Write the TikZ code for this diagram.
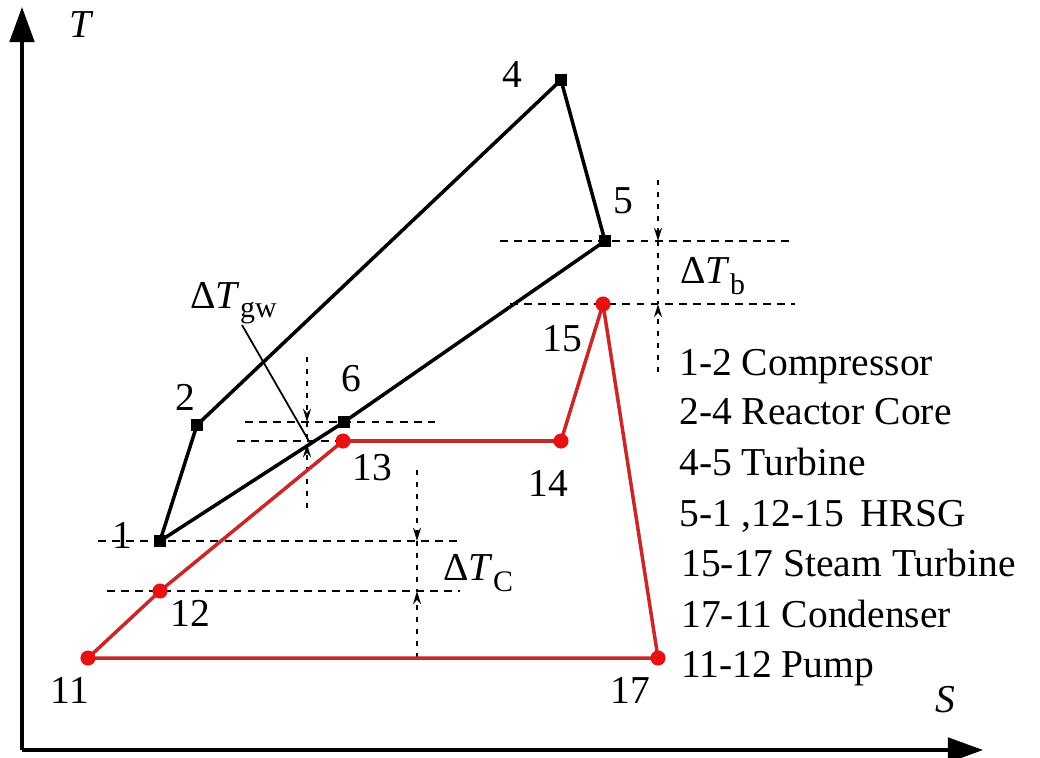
\documentclass[tikz,border=0pt]{standalone}
\usepackage{fontspec}
\setmainfont{Liberation Serif}
\usetikzlibrary{arrows.meta}
\definecolor{lred}{RGB}{200,40,40}
\definecolor{dred}{RGB}{232,16,16}
\tikzset{
 bline/.style={line width=2pt, black, line join=miter},
 rline/.style={line width=2pt, lred},
 bsq/.style={fill=black, rectangle, minimum size=7.3pt, inner sep=0pt},
 rdot/.style={fill=dred, circle, minimum size=8.6pt, inner sep=0pt},
 lbl/.style={font=\fontsize{22.5}{24}\selectfont, inner sep=0pt},
 hdash/.style={line width=1.5pt, dash pattern=on 4.5pt off 3.5pt},
 vdot/.style={line width=1.6pt, dash pattern=on 2.8pt off 4pt},
 darr/.style={vdot, -{Stealth[length=7.5pt,width=4.5pt]}},
 axisline/.style={line width=1.9pt, -{Triangle[length=20pt,width=14pt]}},
 legend/.style={lbl, anchor=base west},
 leader/.style={line width=1pt},
}
\begin{document}
\begin{tikzpicture}[x=0.02cm,y=-0.02cm]
\useasboundingbox (0,0) rectangle (1040,757);

% axes
\coordinate (O) at (22,750);
\coordinate (Tend) at (22,7);
\coordinate (Send) at (983,750);
\draw[axisline] (O) -- (Tend);
\draw[axisline] (O) -- (Send);
\node[lbl] (Tlab) at (82,25) {\textit{T}};
\node[lbl] (Slab) at (945,700) {\textit{S}};

% horizontal dashed reference lines
\coordinate (h5a) at (500,241);  \coordinate (h5b) at (795,241);
\coordinate (h15a) at (510,304); \coordinate (h15b) at (795,304);
\coordinate (h6a) at (245,422);  \coordinate (h6b) at (435,422);
\coordinate (h13a) at (237,441); \coordinate (h13b) at (372,441);
\coordinate (h1a) at (98,541);   \coordinate (h1b) at (460,541);
\coordinate (h12a) at (107,591); \coordinate (h12b) at (460,591);
\draw[hdash] (h5a) -- (h5b);
\draw[hdash] (h15a) -- (h15b);
\draw[hdash] (h6a) -- (h6b);
\draw[hdash] (h13a) -- (h13b);
\draw[hdash] (h1a) -- (h1b);
\draw[hdash] (h12a) -- (h12b);

% vertical dotted difference markers
\coordinate (gwT) at (307,357); \coordinate (gw1) at (307,422);
\coordinate (gw2) at (307,444); \coordinate (gwB) at (307,508);
\draw[darr] (gwT) -- (gw1);
\draw[vdot] (gw1) -- (gw2);
\draw[darr] (gwB) -- (gw2);

\coordinate (bT) at (658,180); \coordinate (b1) at (658,241);
\coordinate (b2) at (658,304); \coordinate (bB) at (658,372);
\draw[darr] (bT) -- (b1);
\draw[vdot] (b1) -- (b2);
\draw[darr] (bB) -- (b2);

\coordinate (cT) at (417,470); \coordinate (c1) at (417,541);
\coordinate (c2) at (417,591); \coordinate (cB) at (417,658);
\draw[darr] (cT) -- (c1);
\draw[vdot] (c1) -- (c2);
\draw[darr] (cB) -- (c2);

% Brayton cycle (black)
\node[bsq] (n1) at (160,541) {};
\node[bsq] (n2) at (197,425) {};
\node[bsq] (n4) at (561,80) {};
\node[bsq] (n5) at (605,241) {};
\node[bsq] (n6) at (344,422) {};
\draw[bline] (n1.center) -- (n2.center) -- (n4.center) -- (n5.center) -- (n6.center) -- (n1.center);

% Rankine cycle (red)
\coordinate (r11) at (88,658);
\coordinate (r12) at (160,591);
\coordinate (r13) at (343,441);
\coordinate (r14) at (561,441);
\coordinate (r15) at (603,304);
\coordinate (r17) at (658,658);
\draw[rline, line join=round] (r11) -- (r12) -- (r13) -- (r14) -- (r15) -- (r17) -- cycle;
\node[rdot] (n11) at (r11) {};
\node[rdot] (n12) at (r12) {};
\node[rdot] (n13) at (r13) {};
\node[rdot] (n14) at (r14) {};
\node[rdot] (n15) at (r15) {};
\node[rdot] (n17) at (r17) {};

% point labels
\node[lbl] (l1) at (122,535) {1};
\node[lbl] (l2) at (185,397) {2};
\node[lbl] (l4) at (512,74) {4};
\node[lbl] (l5) at (623,201) {5};
\node[lbl] (l6) at (351,379) {6};
\node[lbl] (l11) at (70,690) {11};
\node[lbl] (l12) at (190,613) {12};
\node[lbl] (l13) at (372,468) {13};
\node[lbl] (l14) at (548,483) {14};
\node[lbl] (l15) at (562,339) {15};
\node[lbl] (l17) at (630,690) {17};

% delta-T labels
\node[lbl, anchor=base west] (dgw) at (190,308) {Δ\textit{T}\raisebox{-5.5pt}{\fontsize{17}{17}\selectfont gw}};
\coordinate (gwl1) at (242,325);
\coordinate (gwl2) at (310,443);
\draw[leader] (gwl1) -- (gwl2);
\node[lbl, anchor=base west] (db) at (680,283) {Δ\textit{T}\raisebox{-6.5pt}{\fontsize{17}{17}\selectfont b}};
\node[lbl, anchor=base west] (dc) at (443,580) {Δ\textit{T}\raisebox{-6.5pt}{\fontsize{17}{17}\selectfont C}};

% legend
\node[legend] (g1) at (679,375) {1-2 Compressor};
\node[legend] (g2) at (679,424) {2-4 Reactor Core};
\node[legend] (g3) at (679,475) {4-5 Turbine};
\node[legend] (g4) at (679,526) {5-1 ,12-15 \,HRSG};
\node[legend] (g5) at (681,576) {15-17 Steam Turbine};
\node[legend] (g6) at (681,627) {17-11 Condenser};
\node[legend] (g7) at (681,677) {11-12 Pump};
\end{tikzpicture}
\end{document}
